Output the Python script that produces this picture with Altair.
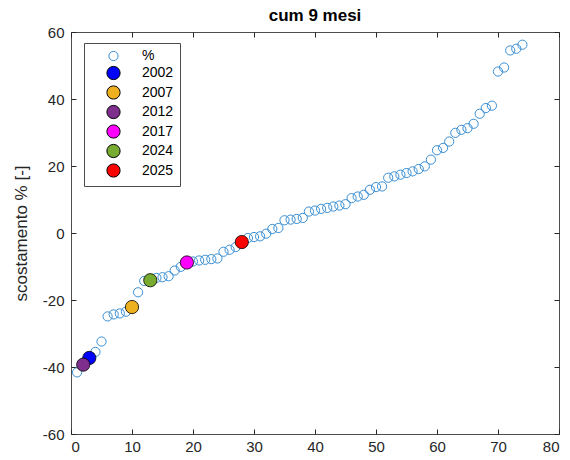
import altair as alt
import pandas as pd

# ---- data ----
ranks = list(range(1, 75))
values = [
    -41.6, -39.3, -37.3, -35.5, -32.4, -24.9, -24.3, -24.0, -23.5, -22.1,
    -17.7, -14.3, -14.1, -13.4, -13.2, -12.9, -11.2, -10.1, -8.8, -8.5,
    -8.2, -8.0, -7.8, -7.6, -5.6, -5.0, -4.2, -2.7, -1.5, -1.2,
    -1.0, -0.2, 1.2, 1.5, 3.8, 4.0, 4.2, 4.5, 6.4, 6.7,
    7.2, 7.5, 7.9, 8.2, 8.6, 10.4, 10.9, 11.4, 12.9, 13.7,
    13.9, 16.5, 16.9, 17.4, 17.9, 18.4, 19.1, 19.9, 21.9, 24.7,
    25.4, 27.3, 29.9, 30.8, 31.3, 32.6, 35.6, 37.3, 38.0, 48.2,
    49.4, 54.5, 55.0, 56.2,
]
ring_label = "%"
hl_years = ["2002", "2007", "2012", "2017", "2024", "2025"]
hl_ranks = [3, 10, 2, 19, 13, 28]
hl_colors = ["#0000FF", "#EDB120", "#7E2F8E", "#FF00FF", "#77AC30", "#FF0000"]
ring_color = "#3a8fd4"
x_ticks = [0, 10, 20, 30, 40, 50, 60, 70, 80]
y_ticks = [-60, -40, -20, 0, 20, 40, 60]

df_all = pd.DataFrame({"rank": ranks, "value": values, "series": ring_label})
df_hl = pd.DataFrame({
    "rank": hl_ranks,
    "value": [values[r - 1] for r in hl_ranks],
    "series": hl_years,
})

domain = [ring_label] + hl_years
fill_range = ["transparent"] + hl_colors
stroke_range = [ring_color] + ["#000000"] * len(hl_years)
size_range = [85] + [175] * len(hl_years)

FONT = "Liberation Sans"
AX = "#262626"
BOX = "#4d4d4d"

xscale = alt.Scale(domain=[0, 80], nice=False, zero=False)
yscale = alt.Scale(domain=[-60, 60], nice=False, zero=False)

legend = alt.Legend(
    title=None, orient="none", legendX=13, legendY=11,
    fillColor="white", strokeColor=BOX, padding=6,
    symbolOffset=16, labelOffset=21, rowPadding=0.5,
    labelFont=FONT, labelFontSize=14, labelColor="#000000",
    symbolStrokeWidth=1, symbolOpacity=1, symbolType="circle",
)

enc_common = dict(
    fill=alt.Fill("series:N", scale=alt.Scale(domain=domain, range=fill_range), legend=legend),
    stroke=alt.Stroke("series:N", scale=alt.Scale(domain=domain, range=stroke_range)),
    size=alt.Size("series:N", scale=alt.Scale(type="ordinal", domain=domain, range=size_range)),
)

axis_common = dict(
    domain=False, grid=False, ticks=True, tickSize=5, offset=-5,
    tickColor=AX, tickWidth=1,
    labelFont=FONT, labelFontSize=15, labelColor=AX,
    labelExpr="'' + datum.value",
)

rings = alt.Chart(df_all).mark_circle(opacity=1, strokeWidth=1).encode(
    x=alt.X("rank:Q", scale=xscale,
            axis=alt.Axis(orient="bottom", values=x_ticks, title=None,
                          labelPadding=5, **axis_common)),
    y=alt.Y("value:Q", scale=yscale,
            axis=alt.Axis(orient="left", values=y_ticks, title="scostamento % [-]",
                          labelPadding=7, titleFont=FONT, titleFontSize=17,
                          titleFontWeight="normal", titleColor=AX, titlePadding=12,
                          **axis_common)),
    **enc_common,
)

highlights = alt.Chart(df_hl).mark_circle(opacity=1, strokeWidth=0.8).encode(
    x=alt.X("rank:Q", scale=xscale,
            axis=alt.Axis(orient="top", values=x_ticks, title=None, labels=False,
                          **axis_common)),
    y=alt.Y("value:Q", scale=yscale,
            axis=alt.Axis(orient="right", values=y_ticks, title=None, labels=False,
                          **axis_common)),
    **enc_common,
)

chart = (
    alt.layer(rings, highlights)
    .resolve_axis(x="independent", y="independent")
    .properties(
        width=488, height=402,
        title=alt.TitleParams("cum 9 mesi", font=FONT, fontSize=17, fontWeight="bold",
                              color="#000000", anchor="middle", offset=0),
        autosize=alt.AutoSizeParams(type="none"),
        padding={"left": 71, "top": 32, "right": 11, "bottom": 26},
        background="white",
    )
    .configure_view(stroke=BOX, strokeWidth=1)
)

chart.save("out.html", embed_options={"renderer": "svg", "actions": False})
